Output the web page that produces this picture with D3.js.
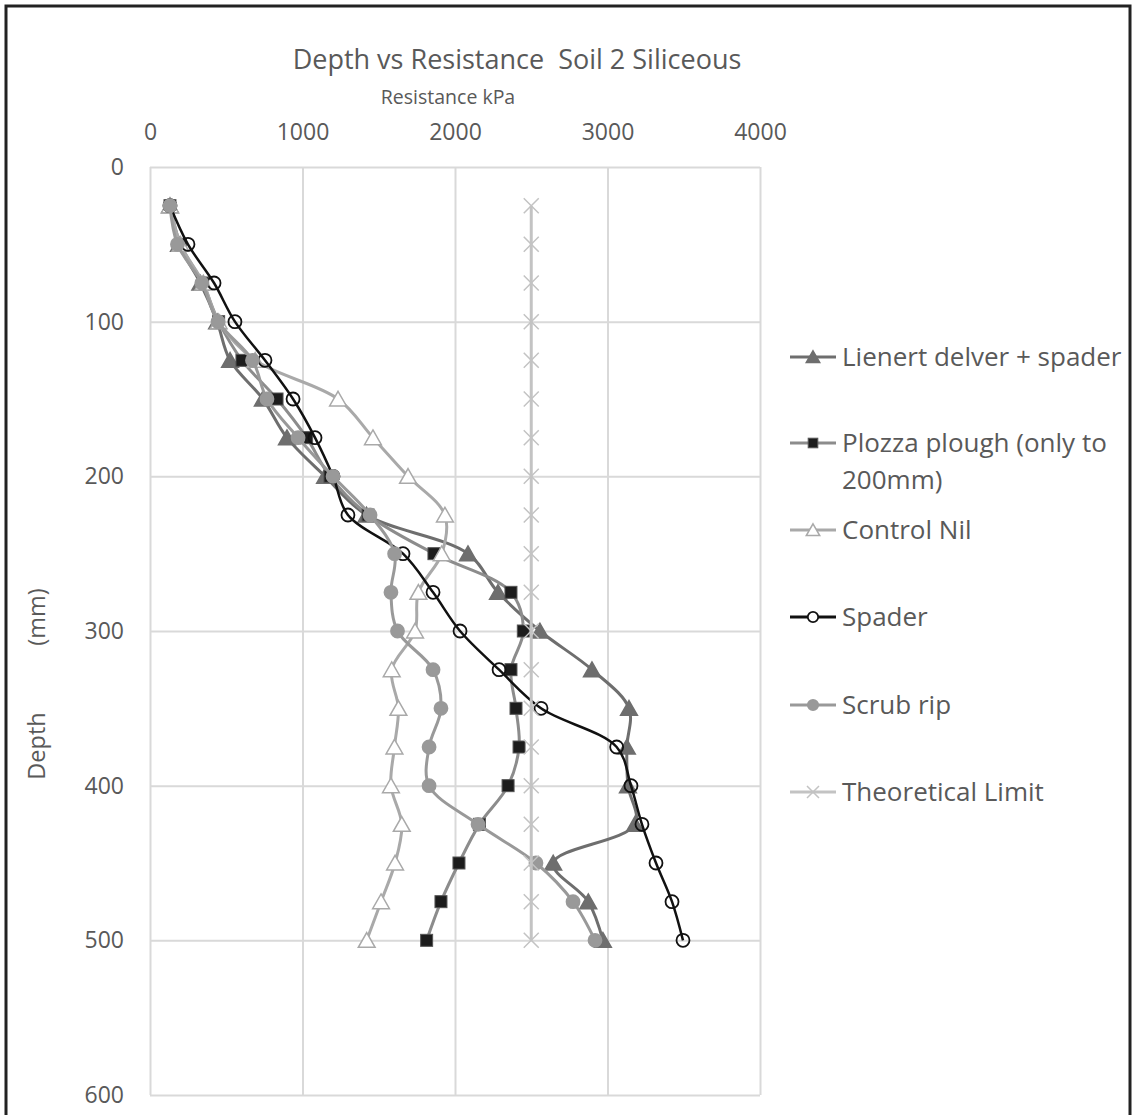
<!DOCTYPE html>
<html>
<head>
  <meta charset="utf-8">
  <script src="https://d3js.org/d3.v7.min.js"></script>
  <style>
    body { margin: 0; background: #fff; }
    text { font-family: "Open Sans", "Noto Sans", sans-serif; fill: #595959; }
  </style>
</head>
<body>
  <script>
    // Depths (mm) and resistance (kPa) for each treatment
    var depths = [25, 50, 75, 100, 125, 150, 175, 200, 225, 250, 275, 300, 325, 350, 375, 400, 425, 450, 475, 500];
    var lienert = [131, 190, 330, 440, 525, 740, 898, 1148, 1420, 2085, 2282, 2557, 2898, 3141, 3127, 3134, 3180, 2644, 2874, 2970];
    var plozza = [131, 200, 345, 450, 603, 833, 1027, 1180, 1430, 1862, 2367, 2448, 2367, 2400, 2420, 2348, 2160, 2026, 1908, 1814];
    var control = [131, 200, 350, 450, 690, 1233, 1462, 1692, 1934, 1913, 1760, 1738, 1585, 1629, 1603, 1580, 1651, 1607, 1515, 1421];
    var spader = [131, 249, 420, 557, 754, 938, 1082, 1200, 1298, 1659, 1856, 2033, 2289, 2564, 3060, 3154, 3226, 3318, 3423, 3495];
    var scrub = [131, 180, 340, 446, 672, 767, 971, 1200, 1443, 1604, 1580, 1623, 1856, 1908, 1830, 1830, 2151, 2531, 2774, 2918];
    var limit = [2500, 2500, 2500, 2500, 2500, 2500, 2500, 2500, 2500, 2500, 2500, 2500, 2500, 2500, 2500, 2500, 2500, 2500, 2500, 2500];

    var xTicks = [0, 1000, 2000, 3000, 4000];
    var yTicks = [0, 100, 200, 300, 400, 500, 600];

    var series = [
      { name: ["Lienert delver + spader"], values: lienert, line: "#6e6e6e", marker: "triangle", fill: "#6e6e6e", stroke: "#6e6e6e" },
      { name: ["Plozza plough (only to", "200mm)"], values: plozza, line: "#8c8c8c", marker: "square", fill: "#1c1c1c", stroke: "#555" },
      { name: ["Control Nil"], values: control, line: "#a9a9a9", marker: "triangle", fill: "#fff", stroke: "#a9a9a9" },
      { name: ["Spader"], values: spader, line: "#111", marker: "circle", fill: "none", stroke: "#111" },
      { name: ["Scrub rip"], values: scrub, line: "#999", marker: "circle", fill: "#999", stroke: "#999" },
      { name: ["Theoretical Limit"], values: limit, line: "#c3c3c3", marker: "cross", fill: "none", stroke: "#c3c3c3" }
    ];

    var W = 1134, H = 1115;
    var svg = d3.select("body").append("svg")
      .attr("width", W).attr("height", H);

    // outer frame
    svg.append("rect")
      .attr("x", 6).attr("y", 6)
      .attr("width", 1124).attr("height", 1130)
      .attr("fill", "none").attr("stroke", "#222").attr("stroke-width", 3);

    var x = d3.scaleLinear().domain([0, 4000]).range([150, 760]);
    var y = d3.scaleLinear().domain([0, 600]).range([167, 1095]);

    // gridlines
    svg.append("g")
      .attr("transform", "translate(0,167)")
      .call(d3.axisBottom(x).tickValues(xTicks).tickSize(928).tickFormat(""))
      .call(function(g) { g.select(".domain").remove(); })
      .selectAll("line").attr("stroke", "#d9d9d9").attr("stroke-width", 2);

    svg.append("g")
      .attr("transform", "translate(150,0)")
      .call(d3.axisRight(y).tickValues(yTicks).tickSize(610).tickFormat(""))
      .call(function(g) { g.select(".domain").remove(); })
      .selectAll("line").attr("stroke", "#d9d9d9").attr("stroke-width", 2);

    // axis labels
    var xAxis = svg.append("g")
      .attr("transform", "translate(0,167)")
      .call(d3.axisTop(x).tickValues(xTicks).tickSize(0).tickPadding(27).tickFormat(d3.format("d")));
    xAxis.select(".domain").remove();
    xAxis.selectAll("text").style("font-size", "23px").attr("fill", "#595959")
      .style("font-family", "'Open Sans', sans-serif");

    var yAxis = svg.append("g")
      .attr("transform", "translate(150,0)")
      .call(d3.axisLeft(y).tickValues(yTicks).tickSize(0).tickPadding(26).tickFormat(d3.format("d")));
    yAxis.select(".domain").remove();
    yAxis.selectAll("text").style("font-size", "23px").attr("fill", "#595959")
      .style("font-family", "'Open Sans', sans-serif");

    // titles
    svg.append("text")
      .attr("x", 517).attr("y", 69)
      .attr("text-anchor", "middle")
      .style("font-size", "27px")
      .style("white-space", "pre")
      .text("Depth vs Resistance  Soil 2 Siliceous");

    svg.append("text")
      .attr("x", 448).attr("y", 104)
      .attr("text-anchor", "middle")
      .style("font-size", "19.5px")
      .text("Resistance kPa");

    // y title: "Depth" and "(mm)" are separated by a wide gap
    svg.append("text")
      .attr("transform", "translate(45,746) rotate(-90)")
      .attr("text-anchor", "middle")
      .style("font-size", "23.5px")
      .text("Depth");
    svg.append("text")
      .attr("transform", "translate(45,617) rotate(-90)")
      .attr("text-anchor", "middle")
      .style("font-size", "23.5px")
      .text("(mm)");

    // marker drawing
    function drawMarker(g, type, size, fill, stroke) {
      if (type === "triangle") {
        var s = size;
        g.append("path")
          .attr("d", "M0," + (-s * 0.55) + "L" + (s * 0.6) + "," + (s * 0.5) + "L" + (-s * 0.6) + "," + (s * 0.5) + "Z")
          .attr("fill", fill).attr("stroke", stroke).attr("stroke-width", 1.5);
      } else if (type === "square") {
        g.append("rect")
          .attr("x", -size / 2).attr("y", -size / 2)
          .attr("width", size).attr("height", size)
          .attr("fill", fill).attr("stroke", stroke).attr("stroke-width", 1);
      } else if (type === "circle") {
        g.append("circle")
          .attr("r", size / 2)
          .attr("fill", fill).attr("stroke", stroke).attr("stroke-width", 1.8);
      } else if (type === "cross") {
        var h = size / 2;
        g.append("path")
          .attr("d", "M" + (-h) + "," + (-h) + "L" + h + "," + h + "M" + h + "," + (-h) + "L" + (-h) + "," + h)
          .attr("stroke", stroke).attr("stroke-width", 1.5).attr("fill", "none");
      }
    }

    var line = d3.line()
      .x(function(d) { return x(d[0]); })
      .y(function(d) { return y(d[1]); })
      .curve(d3.curveCatmullRom.alpha(0.5));

    var markerSize = { triangle: 14, square: 12, circle: 13, cross: 15 };

    series.forEach(function(s) {
      var pts = s.values.map(function(v, i) { return [v, depths[i]]; });
      svg.append("path")
        .datum(pts)
        .attr("d", line)
        .attr("fill", "none")
        .attr("stroke", s.line)
        .attr("stroke-width", s.name[0] === "Spader" ? 2.5 : 3);
      svg.append("g").selectAll("g")
        .data(pts)
        .enter().append("g")
        .attr("transform", function(d) { return "translate(" + x(d[0]) + "," + y(d[1]) + ")"; })
        .each(function() {
          drawMarker(d3.select(this), s.marker, markerSize[s.marker], s.fill, s.stroke);
        });
    });

    // legend
    var legendY = [357, 443, 530, 617, 705, 792];
    series.forEach(function(s, i) {
      var g = svg.append("g").attr("transform", "translate(0," + legendY[i] + ")");
      g.append("line")
        .attr("x1", 790).attr("x2", 836)
        .attr("stroke", s.line).attr("stroke-width", 3);
      var m = g.append("g").attr("transform", "translate(813,0)");
      drawMarker(m, s.marker, markerSize[s.marker] * 0.8, s.fill === "none" ? "#fff" : s.fill, s.stroke);
      s.name.forEach(function(t, j) {
        g.append("text")
          .attr("x", 842).attr("y", 9 + j * 37)
          .style("font-size", "26px")
          .text(t);
      });
    });
  </script>
</body>
</html>
